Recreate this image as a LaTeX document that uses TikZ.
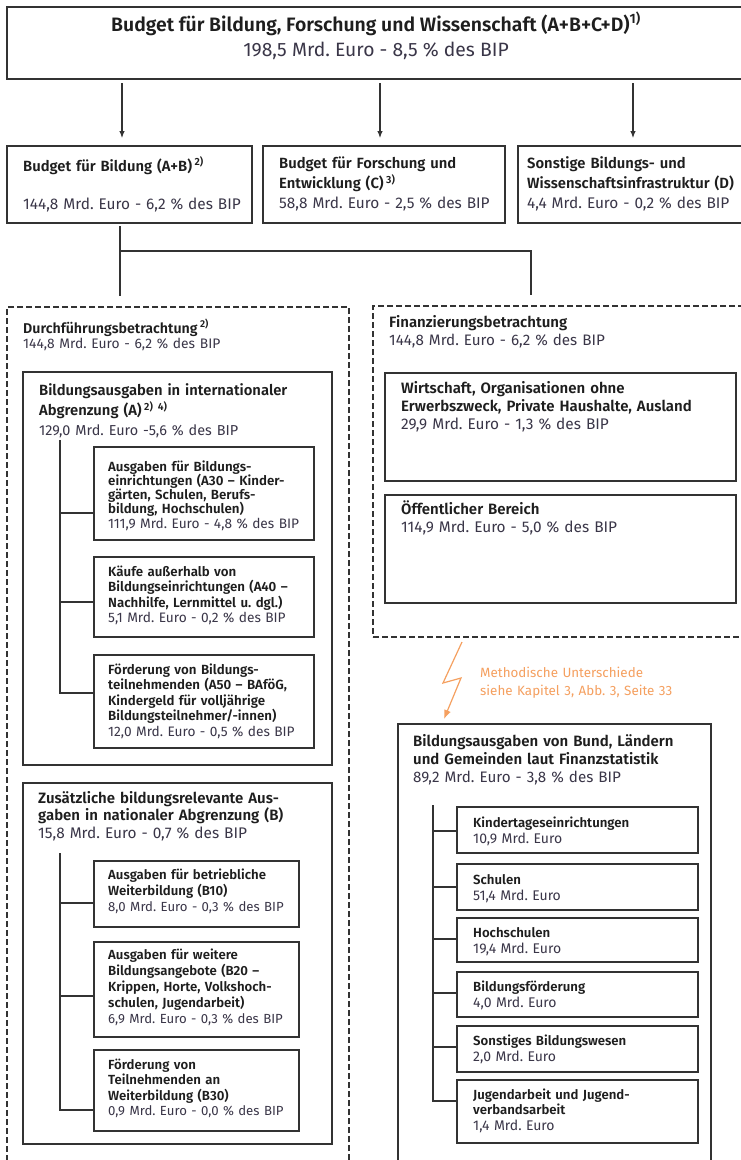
\documentclass[tikz,border=0pt]{standalone}
\usepackage{fontspec}
\setmainfont{Fira Sans}[BoldFont={Fira Sans SemiBold}]
\usetikzlibrary{arrows.meta,calc}
\definecolor{ln}{HTML}{333333}
\definecolor{tx}{HTML}{1E1E1E}
\definecolor{nm}{HTML}{3A3648}
\definecolor{org}{HTML}{F5A060}
\newcommand\fz[2]{\fontsize{#1}{#2}\selectfont}
\newcommand\nmz[2]{{\fontsize{#1}{12}\selectfont\mdseries\color{nm}#2}}
\newcommand\sups[1]{\,\textsuperscript{#1}}
\begin{document}
\frenchspacing
\begin{tikzpicture}[x=1pt,y=-1pt,
  box/.style={draw=ln,line width=1.1pt,anchor=north west,inner sep=0,outer sep=0},
  dbox/.style={box,dash pattern=on 6pt off 3pt},
  txt/.style={anchor=base west,inner sep=0,text width=340pt,align=left,text=tx},
  ctxt/.style={anchor=base,inner sep=0,text=tx},
  conn/.style={draw=ln,line width=1.1pt},
  arr/.style={conn,-{Latex[length=7pt,width=5.5pt]}},
  zap/.style={draw=org,line width=1.2pt,-{Latex[length=9pt,width=7pt]}}]
\useasboundingbox (0,0) rectangle (741,1160);
\clip (0,0) rectangle (741,1160);
\fill[white] (0,0) rectangle (741,1160);

% top
\node[box,minimum width=760pt,minimum height=72pt] (top) at (7,7) {};
\node[ctxt,font=\fz{19.4}{24}\bfseries] (topT) at (376,31.5) {Budget für Bildung, Forschung und Wissenschaft (A+B+C+D)\textsuperscript{1)}};
\node[ctxt,font=\fz{19.3}{24}] (topN) at (376,56.5) {\color{nm}198,5 Mrd. Euro - 8,5 \% des BIP};

% row 2
\node[box,minimum width=245pt,minimum height=77pt] (b1) at (7,146) {};
\node[box,minimum width=242pt,minimum height=77pt] (b2) at (263,146) {};
\node[box,minimum width=240pt,minimum height=77pt] (b3) at (518,146) {};
\node[txt,font=\fz{14.8}{20}\bfseries] (b1T) at (23,171) {Budget für Bildung (A+B)\sups{2)}};
\node[txt,font=\fz{14.8}{20}] (b1N) at (23,209.5) {\nmz{15.4}{144,8 Mrd. Euro - 6,2 \% des BIP}};
\node[txt,font=\fz{14.8}{20}\bfseries] (b2T) at (279,168.5) {Budget für Forschung und\\Entwicklung (C)\sups{3)}\\\nmz{15.4}{58,8 Mrd. Euro - 2,5 \% des BIP}};
\node[txt,font=\fz{14.8}{20}\bfseries] (b3T) at (527,168.5) {Sonstige Bildungs- und\\Wissenschaftsinfrastruktur (D)\\\nmz{15.4}{4,4 Mrd. Euro - 0,2 \% des BIP}};

\coordinate (ax1) at (122,0);
\coordinate (ax2) at (380,0);
\coordinate (ax3) at (633,0);
\draw[arr,shorten <=4pt,shorten >=8pt] (top.south -| ax1) -- (b1.north -| ax1);
\draw[arr,shorten <=4pt,shorten >=8pt] (top.south -| ax2) -- (b2.north -| ax2);
\draw[arr,shorten <=4pt,shorten >=8pt] (top.south -| ax3) -- (b3.north -| ax3);

% dashed frames
\node[dbox,minimum width=342pt,minimum height=880pt] (dL) at (7,307) {};
\node[dbox,minimum width=380pt,minimum height=331pt] (dR) at (373,306) {};

\coordinate (j1) at (120,251);
\coordinate (j2) at (531,251);
\draw[conn,shorten <=3pt] (b1.south -| j1) -- (j1);
\draw[conn,shorten >=11pt] (j1) -- (dL.north -| j1);
\draw[conn,shorten >=11pt] (j1) -- (j2) -- (dR.north -| j2);

\node[txt,font=\fz{14.2}{15.5}\bfseries] (dLT) at (23,333) {Durchführungsbetrachtung\sups{2)}\\\nmz{13.8}{144,8 Mrd. Euro - 6,2 \% des BIP}};
\node[txt,font=\fz{15}{18}\bfseries] (dRT) at (389,327.5) {Finanzierungsbetrachtung\\\nmz{15.2}{144,8 Mrd. Euro - 6,2 \% des BIP}};

% box A
\node[box,minimum width=309pt,minimum height=393pt] (bA) at (23,372) {};
\node[txt,font=\fz{14.8}{20.5}\bfseries] (bAT) at (39,395) {Bildungsausgaben in internationaler\\Abgrenzung (A)\sups{2) 4)}\\[-0.5pt]\nmz{14.4}{129,0 Mrd. Euro -5,6 \% des BIP}};
\node[box,minimum width=220pt,minimum height=93pt] (a30) at (94,447) {};
\node[box,minimum width=220pt,minimum height=80pt] (a40) at (94,557) {};
\node[box,minimum width=220pt,minimum height=93pt] (a50) at (94,655) {};
\node[txt,font=\fz{13.3}{14.3}\bfseries] (a30T) at (108,471) {Ausgaben für Bildungs-\\einrichtungen (A30 – Kinder-\\gärten, Schulen, Berufs-\\bildung, Hochschulen)\\\nmz{13.7}{111,9 Mrd. Euro - 4,8 \% des BIP}};
\node[txt,font=\fz{13.3}{15.6}\bfseries] (a40T) at (108,576) {Käufe außerhalb von\\Bildungseinrichtungen (A40 –\\Nachhilfe, Lernmittel u. dgl.)\\\nmz{13.7}{5,1 Mrd. Euro - 0,2 \% des BIP}};
\node[txt,font=\fz{13.3}{15.5}\bfseries] (a50T) at (108,674) {Förderung von Bildungs-\\teilnehmenden (A50 – BAföG,\\Kindergeld für volljährige\\Bildungsteilnehmer/-innen)\\\nmz{13.7}{12,0 Mrd. Euro - 0,5 \% des BIP}};
\coordinate (tA) at (60,440);
\coordinate (brA1) at (60,513);
\coordinate (brA2) at (60,602);
\coordinate (brA3) at (60,693);
\draw[conn] (tA) -- (brA3) -- (a50.west |- brA3);
\draw[conn] (brA1) -- (a30.west |- brA1);
\draw[conn] (brA2) -- (a40.west |- brA2);

% box B
\node[box,minimum width=309pt,minimum height=361pt] (bB) at (23,783) {};
\node[txt,font=\fz{15}{17.5}\bfseries] (bBT) at (38,803) {Zusätzliche bildungsrelevante Aus-\\gaben in nationaler Abgrenzung (B)\\\nmz{15.4}{15,8 Mrd. Euro - 0,7 \% des BIP}};
\node[box,minimum width=205pt,minimum height=66pt] (b10) at (94,861) {};
\node[box,minimum width=205pt,minimum height=95pt] (b20) at (94,942) {};
\node[box,minimum width=205pt,minimum height=81pt] (b30) at (94,1050) {};
\node[txt,font=\fz{13.2}{16.3}\bfseries] (b10T) at (108,879) {Ausgaben für betriebliche\\Weiterbildung (B10)\\\nmz{13.2}{8,0 Mrd. Euro - 0,3 \% des BIP}};
\node[txt,font=\fz{13.2}{16.2}\bfseries] (b20T) at (108,959) {Ausgaben für weitere\\Bildungsangebote (B20 –\\Krippen, Horte, Volkshoch-\\schulen, Jugendarbeit)\\\nmz{13.2}{6,9 Mrd. Euro - 0,3 \% des BIP}};
\node[txt,font=\fz{13.2}{15.6}\bfseries] (b30T) at (108,1069) {Förderung von\\Teilnehmenden an\\Weiterbildung (B30)\\\nmz{13.2}{0,9 Mrd. Euro - 0,0 \% des BIP}};
\coordinate (tB) at (60,853);
\coordinate (brB1) at (60,903);
\coordinate (brB2) at (60,996);
\coordinate (brB3) at (60,1110);
\draw[conn] (tB) -- (brB3) -- (b30.west |- brB3);
\draw[conn] (brB1) -- (b10.west |- brB1);
\draw[conn] (brB2) -- (b20.west |- brB2);

% right boxes
\node[box,minimum width=351pt,minimum height=108pt] (bW) at (385,373) {};
\node[box,minimum width=351pt,minimum height=108pt] (bO) at (385,495) {};
\node[txt,font=\fz{15}{18}\bfseries] (bWT) at (401,393) {Wirtschaft, Organisationen ohne\\Erwerbszweck, Private Haushalte, Ausland\\\nmz{15.4}{29,9 Mrd. Euro - 1,3 \% des BIP}};
\node[txt,font=\fz{15}{18}\bfseries] (bOT) at (401,514) {Öffentlicher Bereich\\\nmz{15.4}{114,9 Mrd. Euro - 5,0 \% des BIP}};

% lightning
\coordinate (lz0) at (462,642);
\coordinate (lz1) at (443,683);
\coordinate (lz2) at (461,678);
\coordinate (lz3) at (444,719);
\draw[zap] (lz0) -- (lz1) -- (lz2) -- (lz3);
\node[txt,font=\fz{13.4}{18},text=org] (zapT) at (480,677.5) {Methodische Unterschiede\\siehe Kapitel 3, Abb. 3, Seite 33};

% Finanzstatistik
\node[box,minimum width=313pt,minimum height=500pt] (fs) at (398,724) {};
\node[txt,font=\fz{15}{18}\bfseries] (fsT) at (413,746) {Bildungsausgaben von Bund, Ländern\\und Gemeinden laut Finanzstatistik\\\nmz{15.2}{89,2 Mrd. Euro - 3,8 \% des BIP}};
\node[box,minimum width=241pt,minimum height=46pt] (k1) at (457,807) {};
\node[box,minimum width=241pt,minimum height=46pt] (k2) at (457,864) {};
\node[box,minimum width=241pt,minimum height=44pt] (k3) at (457,918) {};
\node[box,minimum width=241pt,minimum height=45pt] (k4) at (457,972) {};
\node[box,minimum width=241pt,minimum height=46pt] (k5) at (457,1026) {};
\node[box,minimum width=241pt,minimum height=63pt] (k6) at (457,1080) {};
\node[txt,font=\fz{13.2}{16}\bfseries] (k1T) at (473,827) {Kindertageseinrichtungen\\\nmz{14}{10,9 Mrd. Euro}};
\node[txt,font=\fz{13.2}{16}\bfseries] (k2T) at (473,884) {Schulen\\\nmz{14}{51,4 Mrd. Euro}};
\node[txt,font=\fz{13.2}{16}\bfseries] (k3T) at (473,937) {Hochschulen\\\nmz{14}{19,4 Mrd. Euro}};
\node[txt,font=\fz{13.2}{16}\bfseries] (k4T) at (473,991) {Bildungsförderung\\\nmz{14}{4,0 Mrd. Euro}};
\node[txt,font=\fz{13.2}{16}\bfseries] (k5T) at (473,1045) {Sonstiges Bildungswesen\\\nmz{14}{2,0 Mrd. Euro}};
\node[txt,font=\fz{13.2}{15.5}\bfseries] (k6T) at (473,1099) {Jugendarbeit und Jugend-\\verbandsarbeit\\\nmz{14}{1,4 Mrd. Euro}};
\coordinate (tF) at (433,805);
\coordinate (brF1) at (433,831);
\coordinate (brF2) at (433,887);
\coordinate (brF3) at (433,939);
\coordinate (brF4) at (433,993);
\coordinate (brF5) at (433,1047);
\coordinate (brF6) at (433,1101);
\draw[conn] (tF) -- (brF6) -- (k6.west |- brF6);
\draw[conn] (brF1) -- (k1.west |- brF1);
\draw[conn] (brF2) -- (k2.west |- brF2);
\draw[conn] (brF3) -- (k3.west |- brF3);
\draw[conn] (brF4) -- (k4.west |- brF4);
\draw[conn] (brF5) -- (k5.west |- brF5);
\end{tikzpicture}
\end{document}
